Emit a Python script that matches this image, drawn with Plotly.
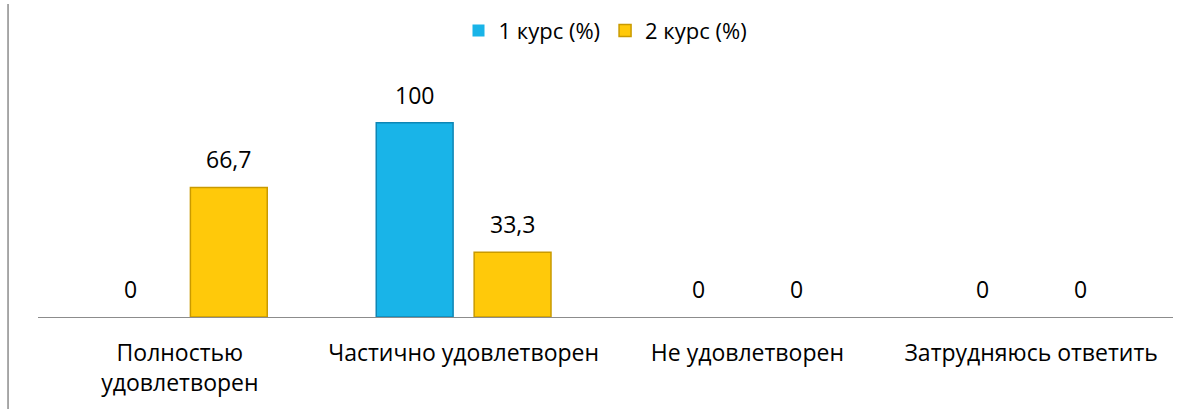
import plotly.graph_objects as go

# chart data
categories = ["Полностью<br>удовлетворен", "Частично удовлетворен",
              "Не удовлетворен", "Затрудняюсь ответить"]
kurs1 = [0, 100, 0, 0]
kurs2 = [66.7, 33.3, 0, 0]
series_names = ["1 курс (%)", "2 курс (%)"]

FONT = "Open Sans, Liberation Sans, sans-serif"
blue = "#19B4E8"
blue_edge = "#0E86B5"
yellow = "#FFC90A"
yellow_edge = "#C99A00"

GAP = 0.31
GROUPGAP = 0.215
off = (1 - GAP) / 4

xs = list(range(len(categories)))

fig = go.Figure()
fig.add_trace(go.Bar(x=xs, y=kurs1, name=series_names[0],
                     marker=dict(color=blue,
                                 line=dict(color=blue_edge,
                                           width=[1.5 if v else 0 for v in kurs1]))))
fig.add_trace(go.Bar(x=xs, y=kurs2, name=series_names[1],
                     marker=dict(color=yellow,
                                 line=dict(color=yellow_edge,
                                           width=[1.5 if v else 0 for v in kurs2]))))

def fmt(v):
    return f"{v:g}".replace(".", ",")

annots = []
for i in xs:
    for vals, sh in ((kurs1, -off), (kurs2, off)):
        annots.append(dict(x=i + sh, y=vals[i], text=fmt(vals[i]), showarrow=False,
                           xref="x", yref="y", yanchor="middle", yshift=28,
                           font=dict(size=23, color="#000000", family=FONT)))

fig.update_layout(
    width=1204, height=409,
    margin=dict(l=38, r=31, t=10, b=92),
    barmode="group", bargap=GAP, bargroupgap=GROUPGAP,
    plot_bgcolor="white", paper_bgcolor="white",
    font=dict(family=FONT, size=23, color="#000000"),
    showlegend=True,
    legend=dict(orientation="h", x=0.5, xanchor="center", y=0.951, yanchor="middle",
                font=dict(size=22), itemwidth=30, tracegroupgap=0,
                bgcolor="rgba(0,0,0,0)"),
    xaxis=dict(tickmode="array", tickvals=xs, ticktext=categories,
               range=[-0.5, len(categories) - 0.5],
               showline=True, linecolor="#8c8c8c", linewidth=1,
               showgrid=False, zeroline=False,
               ticks="outside", ticklen=15, tickcolor="rgba(0,0,0,0)",
               tickfont=dict(size=23, color="#000000")),
    yaxis=dict(range=[0, 155], visible=False, showgrid=False, zeroline=False),
    annotations=annots,
    shapes=[dict(type="line", xref="paper", yref="paper",
                 x0=-0.0264, x1=-0.0264, y0=-0.31, y1=1.04,
                 line=dict(color="#8c8c8c", width=1.5))],
)

fig.write_html("out.html", config={"displayModeBar": False},
               post_script="document.body.style.margin='0';")
